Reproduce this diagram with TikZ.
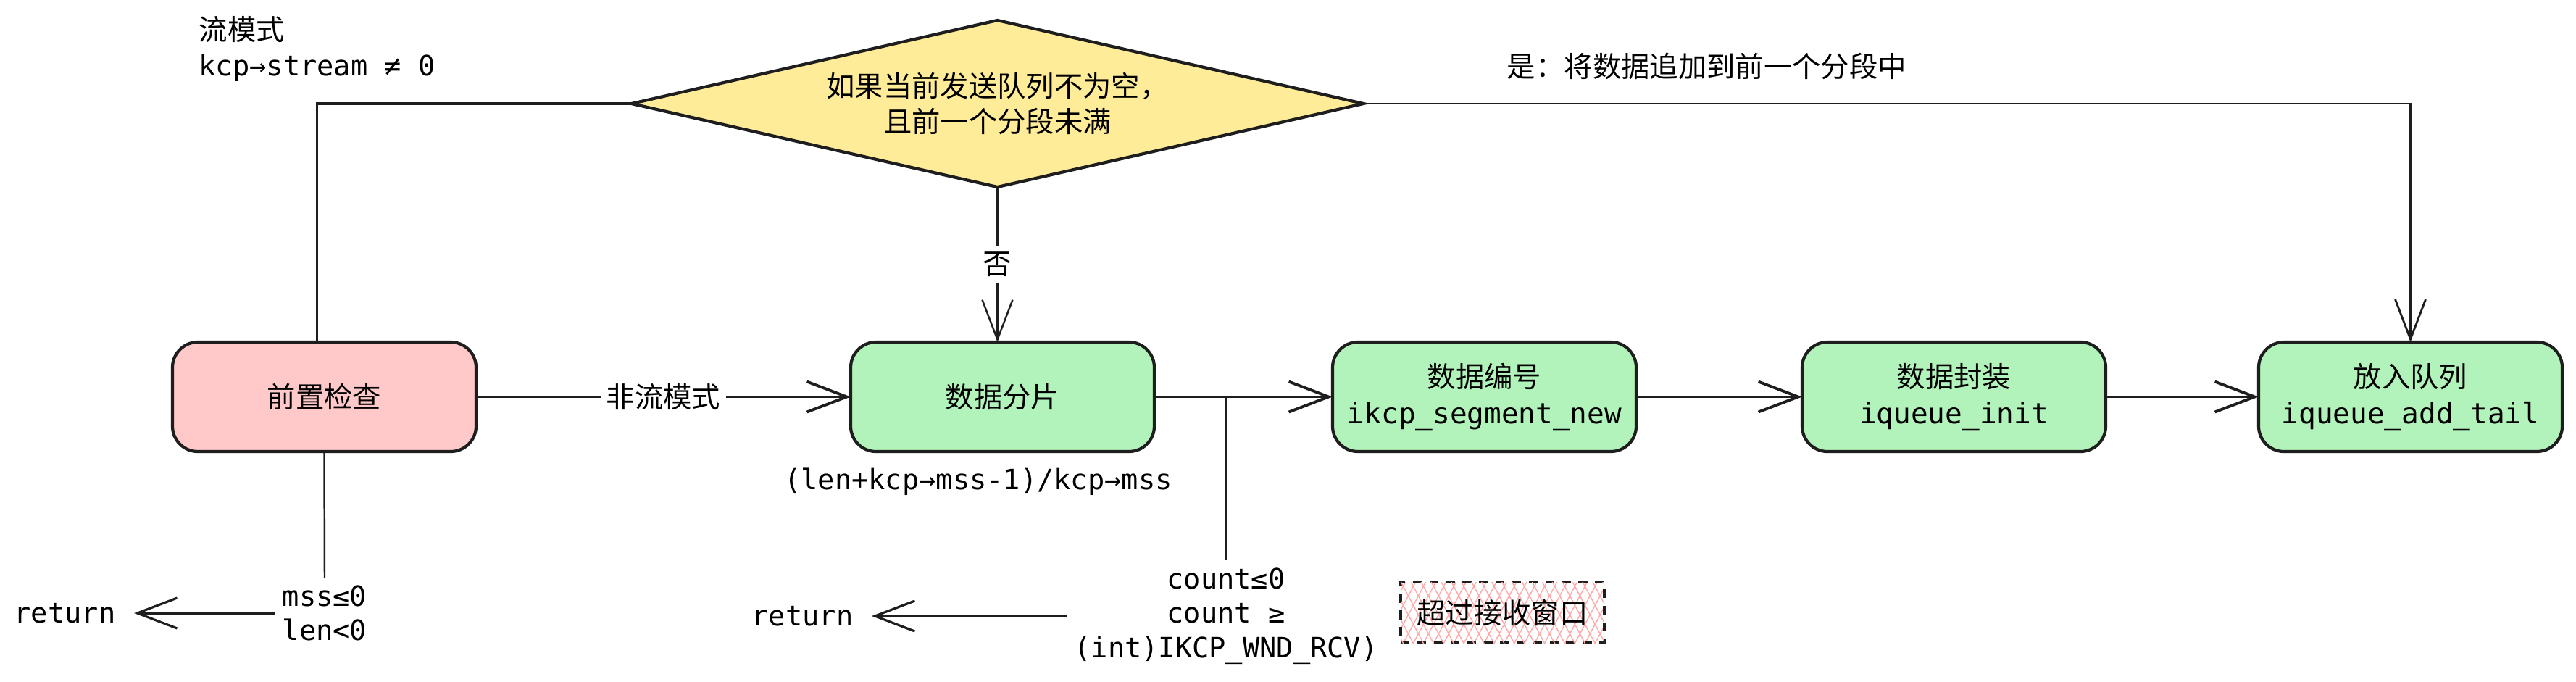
\documentclass[tikz,border=0pt]{standalone}
\usepackage{fontspec}
\setmonofont{DejaVu Sans Mono}
\newfontfamily\cjk{Noto Sans CJK SC}
\usepackage{tikz}
\usetikzlibrary{shapes.geometric,arrows.meta,positioning,patterns.meta}
\definecolor{inkBlack}{HTML}{1e1e1e}
\definecolor{checkRed}{HTML}{ffc9c9}
\definecolor{boxGreen}{HTML}{b2f2bb}
\definecolor{decideYellow}{HTML}{ffec99}
\definecolor{hatchPink}{HTML}{ffa8a8}

\begin{document}
\begin{tikzpicture}[
    font=\cjk\fontsize{11.2}{14}\selectfont,
    box/.style={draw=inkBlack, line width=1.2pt, rounded corners=0.35cm, minimum width=4.19cm, minimum height=1.51cm, align=center, fill=boxGreen, inner sep=0pt, outer sep=0pt},
    decision/.style={diamond, draw=inkBlack, line width=1.2pt, fill=decideYellow, aspect=4.39, minimum width=10.1cm, minimum height=2.3cm, align=center, inner sep=0pt, outer sep=0pt},
    code/.style={font=\fontsize{11}{13.5}\selectfont\ttfamily, align=center, inner sep=0.1cm},
    retlbl/.style={font=\fontsize{11}{13.5}\selectfont\ttfamily, inner ysep=0.1cm, inner xsep=0.25cm},
    warnbox/.style={draw=inkBlack, line width=1.2pt, dash pattern=on 3.5pt off 3pt, minimum width=2.81cm, minimum height=0.84cm,
        pattern={Lines[angle=62,distance=3.5pt,line width=0.4pt]}, pattern color=hatchPink,
        postaction={pattern={Lines[angle=-62,distance=3.5pt,line width=0.4pt]}, pattern color=hatchPink}},
    arrow/.style={-{Straight Barb[length=0.55cm,width=0.42cm]}, line width=1.1pt, draw=inkBlack},
    conn/.style={line width=0.7pt, draw=inkBlack}
]
    \useasboundingbox (0,0) rectangle (35.55,-9.4);

    % main row
    \node[box, fill=checkRed] (check) at (4.475,-5.475) {前置检查};
    \node[box, right=5.17cm of check] (split) {数据分片};
    \node[box, right=2.46cm of split] (number) {数据编号\\{\ttfamily ikcp\_segment\_new}};
    \node[box, right=2.29cm of number] (pack) {数据封装\\{\ttfamily iqueue\_init}};
    \node[box, right=2.11cm of pack] (enqueue) {放入队列\\{\ttfamily iqueue\_add\_tail}};

    \node[decision, above=2.14cm of split, xshift=-0.07cm] (decide) {如果当前发送队列不为空，\\且前一个分段未满};

    % labels
    \node[anchor=north west, align=left, inner sep=0pt] (streamlbl) at (2.74,-0.22)
        {流模式\\{\fontsize{11}{13.5}\selectfont\ttfamily kcp→stream ≠ 0}};
    \node[code] (sizelbl) at (13.5,-6.65) {(len+kcp→mss-1)/kcp→mss};
    \node[code] (msslbl) at (4.48,-8.46) {mss≤0\\len<0};
    \node[retlbl] (ret1) at (0.895,-8.46) {return};
    \node[code] (cntlbl) at (16.92,-8.5) {count≤0\\count ≥\\(int)IKCP\_WND\_RCV)};
    \node[retlbl] (ret2) at (11.075,-8.5) {return};
    \node[warnbox] (warn) at (20.735,-8.45) {超过接收窗口};

    % connectors
    \draw[conn, line width=0.9pt] ([xshift=-1mm]check.north) |- (decide.west);
    \draw[arrow, line width=0.8pt] (decide.east) -| node[pos=0.164, above=0.2cm] {是：将数据追加到前一个分段中} (enqueue.north);
    \draw[arrow, line width=0.7pt] (decide.south) -- node[fill=white, inner sep=0.08cm] {否} (decide.south |- split.north);
    \draw[arrow] (check) -- node[fill=white, inner sep=0.08cm] {非流模式} (split);
    \draw[arrow] (split) -- (number);
    \draw[arrow] (number) -- (pack);
    \draw[arrow] (pack) -- (enqueue);

    \coordinate (branch) at (cntlbl.north |- split.east);
    \draw[conn] (branch) -- (cntlbl.north);
    \draw[arrow, line width=0.9pt] (cntlbl.west) -- (ret2.east);
    \draw[conn] (check.south) -- (msslbl.north);
    \draw[arrow, line width=0.9pt] (msslbl.west) -- (ret1.east);
\end{tikzpicture}
\end{document}
